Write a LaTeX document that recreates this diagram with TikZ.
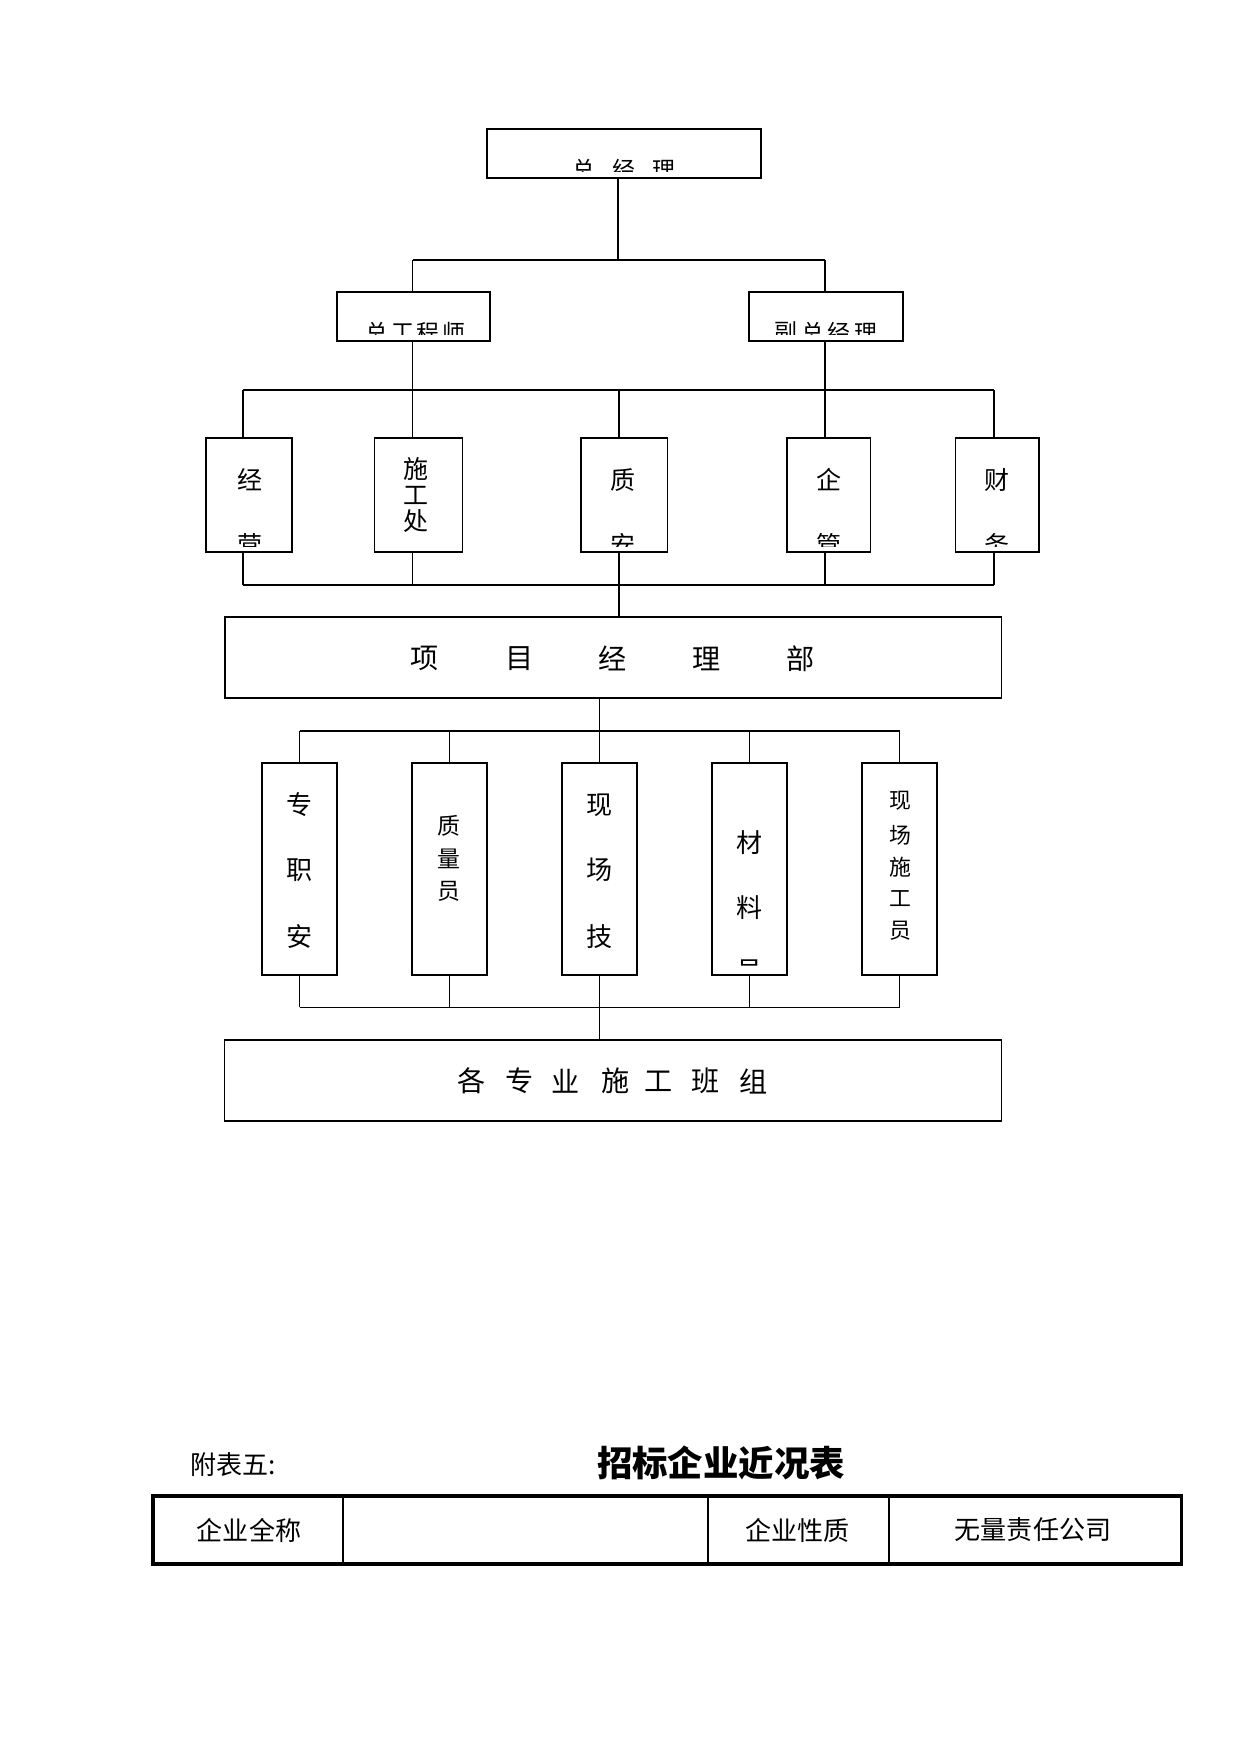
\documentclass[tikz,border=0pt]{standalone}
\usepackage{fontspec}
\setmainfont{Noto Sans CJK SC}
\usetikzlibrary{fit}
\begin{document}
\begin{tikzpicture}[x=0.48pt,y=-0.48pt,
  box/.style={draw,line width=0.8pt,inner sep=0pt},
  conn/.style={line width=0.95pt},
  thinconn/.style={line width=0.45pt},
  lbl/.style={inner sep=0pt,font=\fontsize{#1}{#1}\selectfont},
  lbl/.default=12
]
\useasboundingbox (0,0) rectangle (1241,1754);

% ---------- top level ----------
\node[box,fit={(487,129)(761,178)}] (top) {};
\begin{scope}
  \clip (487,129) rectangle (761,171.5);
  \foreach \x/\c in {584/总,624/经,663.5/理} \node[lbl=11] at (\x,169.5) {\c};
\end{scope}

\node[box,fit={(337,292)(490,341)}] (zgcs) {};
\begin{scope}
  \clip (337,292) rectangle (490,334);
  \foreach \x/\c in {377/总,402.5/工,428/程,453.5/师} \node[lbl=11] at (\x,332.5) {\c};
\end{scope}

\node[box,fit={(749,292)(903,341)}] (fzjl) {};
\begin{scope}
  \clip (749,292) rectangle (903,334);
  \foreach \x/\c in {786/副,812.5/总,839/经,865.5/理} \node[lbl=11] at (\x,332.5) {\c};
\end{scope}

\coordinate (j1) at (618,260);
\coordinate (bL) at (412.5,260);
\coordinate (bR) at (825,260);
\draw[conn] (top.south -| j1) -- (j1);
\draw[conn] (bL) -- (bR);
\draw[conn] (bL) -- (zgcs.north -| bL);
\draw[conn] (bR) -- (fzjl.north -| bR);

% ---------- departments ----------
\node[box,fit={(206,438)(292,552)}] (jy) {};
\node[box,fit={(374.6,438)(462.4,552)}] (sgc) {};
\node[box,fit={(580.7,438)(667.4,552)}] (za) {};
\node[box,fit={(787,438)(870.6,552)}] (qg) {};
\node[box,fit={(955.6,438)(1039,552)}] (cw) {};

\node[lbl=12] at (250,480) {经};
\node[lbl=12] at (623,480) {质};
\node[lbl=12] at (828.5,480) {企};
\node[lbl=12] at (997,480) {财};
\begin{scope}
  \clip (200,520) rectangle (1045,546);
  \node[lbl=12] at (250,545) {营};
  \node[lbl=12] at (623,545) {安};
  \node[lbl=12] at (828.5,545) {管};
  \node[lbl=12] at (997,545) {务};
\end{scope}
\node[lbl=12] at (416,468.5) {施};
\node[lbl=12] at (416,495) {工};
\node[lbl=12] at (416,521.5) {处};

\coordinate (c1) at (243,390);
\coordinate (c2) at (412.5,390);
\coordinate (c3) at (619,390);
\coordinate (c4) at (825,390);
\coordinate (c5) at (994,390);
\draw[conn] (c1) -- (c5);
\draw[thinconn] (zgcs.south -| bL) -- (sgc.north -| bL);
\draw[conn] (fzjl.south -| bR) -- (qg.north -| bR);
\draw[conn] (c1) -- (jy.north -| c1);
\draw[conn] (c3) -- (za.north -| c3);
\draw[conn] (c5) -- (cw.north -| c5);

\coordinate (d1) at (243,585);
\coordinate (d5) at (994,585);
\draw[conn] (d1) -- (d5);
\draw[conn] (jy.south -| c1) -- (d1);
\draw[thinconn] (sgc.south -| c2) -- (d1 -| c2);
\draw[conn] (za.south -| c3) -- (d1 -| c3);
\draw[conn] (qg.south -| c4) -- (d1 -| c4);
\draw[conn] (cw.south -| c5) -- (d5);

% ---------- project department ----------
\node[box,fit={(224.8,617)(1001.5,698)}] (xmb) {};
\foreach \x/\c in {425/项,520/目,613/经,707/理,801/部} \node[lbl=13.5] at (\x,658.5) {\c};
\draw[conn] (d1 -| c3) -- (xmb.north -| c3);

% ---------- site staff ----------
\node[box,fit={(262,763)(337,975)}] (zza) {};
\node[box,fit={(412,763)(487,975)}] (zly) {};
\node[box,fit={(562,763)(637,975)}] (xcj) {};
\node[box,fit={(712,763)(787,975)}] (cly) {};
\node[box,fit={(862,763)(937,975)}] (xcs) {};
\foreach \y/\c in {805/专,870/职,937/安} \node[lbl=12.5] at (299.5,\y) {\c};
\foreach \y/\c in {826/质,859/量,891/员} \node[lbl=11] at (449,\y) {\c};
\foreach \y/\c in {805/现,870/场,937/技} \node[lbl=12.5] at (599.5,\y) {\c};
\foreach \y/\c in {843/材,908/料} \node[lbl=12.5] at (749.5,\y) {\c};
\begin{scope}
  \clip (712,940) rectangle (787,967.5);
  \node[lbl=12.5] at (749.5,971) {员};
\end{scope}
\foreach \y/\c in {801/现,835/场,867/施,899/工,931/员} \node[lbl=10.5] at (900,\y) {\c};

\coordinate (e0) at (599.5,731);
\draw[conn] (xmb.south -| e0) -- (e0);
\draw[conn] (zza.north |- e0) -- (xcs.north |- e0);
\foreach \n in {zza,zly,xcj,cly,xcs} \draw[conn] (\n.north |- e0) -- (\n.north);

\coordinate (f0) at (599.5,1007);
\draw[thinconn] (zza.south |- f0) -- (xcs.south |- f0);
\foreach \n in {zza,zly,xcj,cly,xcs} \draw[conn] (\n.south) -- (\n.south |- f0);

\node[box,line width=0.95pt,fit={(224.5,1040)(1001.5,1121)}] (bz) {};
\foreach \x/\c in {472/各,520/专,566/业,616/施,659/工,706/班,754/组} \node[lbl=13.5] at (\x,1081) {\c};
\draw[conn] (f0) -- (bz.north -| f0);

% ---------- table ----------
\node[inner sep=0pt,font=\fontsize{12.5}{12.5}\selectfont] (fb) at (233.5,1465) {附表五:};
\node[inner sep=0pt,font=\fontsize{17}{17}\selectfont\bfseries] (tt) at (721,1463) {招标企业近况表};

\node[draw,line width=1.6pt,inner sep=0pt,fit={(153,1496)(1181.6,1564)}] (tab) {};
\draw[line width=0.6pt] (343,1496) -- (343,1564);
\draw[line width=0.5pt] (708,1496) -- (708,1564);
\draw[line width=0.5pt] (889,1496) -- (889,1564);
\node[lbl=12.5] (t1) at (249,1530) {企业全称};
\node[lbl=12.5] (t2) at (797.5,1530) {企业性质};
\node[lbl=12.5] (t3) at (1033,1530) {无量责任公司};
\end{tikzpicture}
\end{document}
